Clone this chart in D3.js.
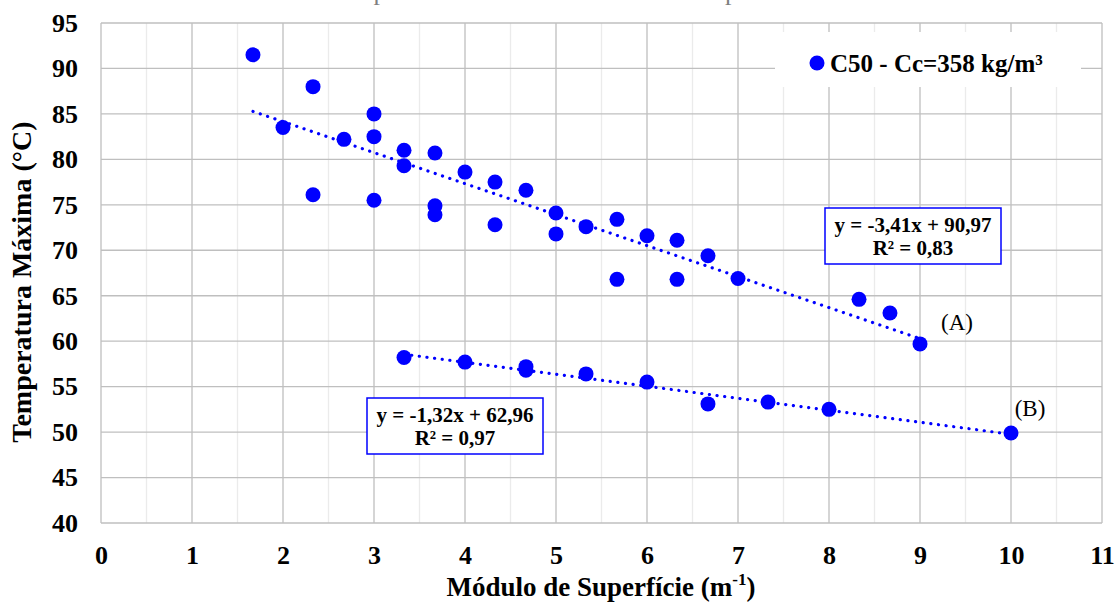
<!DOCTYPE html>
<html>
<head>
<meta charset="utf-8">
<script src="https://cdn.jsdelivr.net/npm/d3@7"></script>
<style>
  body { margin: 0; background: #fff; }
  svg text { font-family: 'Liberation Serif', 'Times New Roman', serif; }
</style>
</head>
<body>
<div id="chart"></div>
<script type="text/javascript">

      // data
      var xA = [1.67, 2.33, 2, 2.33, 2.67, 3, 3, 3, 3.33, 3.33, 3.67, 3.67, 3.67, 4, 4.33, 4.33, 4.67, 5, 5, 5.33, 5.67, 5.67, 6, 6.33, 6.33, 6.67, 7, 8.33, 8.67, 9];
      var yA = [91.5, 88, 83.5, 76.1, 82.2, 85, 82.5, 75.5, 81, 79.3, 80.7, 74.9, 73.9, 78.6, 77.5, 72.8, 76.6, 74.1, 71.8, 72.6, 73.4, 66.8, 71.6, 71.1, 66.8, 69.4, 66.9, 64.6, 63.1, 59.7];
      var xB = [3.33, 4, 4.67, 4.67, 5.33, 6, 6.67, 7.33, 8, 10];
      var yB = [58.2, 57.7, 57.2, 56.8, 56.4, 55.5, 53.1, 53.3, 52.5, 49.9];

      // trend lines: slope, intercept, x range
      var trendA = [-3.41, 90.97, 1.67, 9];
      var trendB = [-1.32, 62.96, 3.33, 10];
      var eqA = ["y = -3,41x + 90,97", "R² = 0,83"];
      var eqB = ["y = -1,32x + 62,96", "R² = 0,97"];

      var xTicks = [0, 1, 2, 3, 4, 5, 6, 7, 8, 9, 10, 11];
      var yTicks = [40, 45, 50, 55, 60, 65, 70, 75, 80, 85, 90, 95];
      var legendLabel = "C50 - Cc=358 kg/m³";

      var w = 1118, h = 602;
      var margin = {top: 23, right: 16, bottom: 79, left: 101};
      var blue = "#0000ff";
      var serif = "'Liberation Serif', 'Times New Roman', serif";

      var svg = d3.select("#chart").append("svg")
                  .attr("width", w).attr("height", h);

      var x = d3.scaleLinear().domain([0, 11]).range([margin.left, w - margin.right]);
      var y = d3.scaleLinear().domain([40, 95]).range([h - margin.bottom, margin.top]);

      // title, mostly cut off at the top edge
      svg.append("text")
         .attr("x", 566).attr("y", 0)
         .attr("text-anchor", "middle")
         .style("font-size", "26px").style("fill", "#7f7f7f")
         .text("Temperatura Máxima x Módulo de Superfície");

      // minor vertical grid
      svg.append("g").selectAll("line")
         .data(d3.range(0.5, 11, 1))
         .enter().append("line")
         .attr("x1", d => x(d)).attr("x2", d => x(d))
         .attr("y1", y(40)).attr("y2", y(95))
         .attr("stroke", "#ebebeb").attr("stroke-width", 1.3);

      // major grid
      svg.append("g").selectAll("line")
         .data(xTicks)
         .enter().append("line")
         .attr("x1", d => x(d)).attr("x2", d => x(d))
         .attr("y1", y(40)).attr("y2", y(95))
         .attr("stroke", "#bfbfbf").attr("stroke-width", 1.3);
      svg.append("g").selectAll("line")
         .data(yTicks)
         .enter().append("line")
         .attr("x1", x(0)).attr("x2", x(11))
         .attr("y1", d => y(d)).attr("y2", d => y(d))
         .attr("stroke", "#bfbfbf").attr("stroke-width", 1.3);

      // axes (labels only)
      var xAxis = svg.append("g")
         .attr("transform", "translate(0," + (h - margin.bottom) + ")")
         .call(d3.axisBottom(x).tickValues(xTicks).tickSize(0).tickPadding(23));
      var yAxis = svg.append("g")
         .attr("transform", "translate(" + margin.left + ",0)")
         .call(d3.axisLeft(y).tickValues(yTicks).tickSize(0).tickPadding(23));
      [xAxis, yAxis].forEach(function(g) {
        g.attr("font-family", serif).attr("font-size", 26);
        g.select(".domain").remove();
        g.selectAll("text")
         .style("font-weight", "bold").style("fill", "#000");
      });

      // legend box
      svg.append("rect")
         .attr("x", 775).attr("y", 32).attr("width", 306).attr("height", 55)
         .attr("fill", "#fff");
      svg.append("circle")
         .attr("cx", 817).attr("cy", 63).attr("r", 7.5).attr("fill", blue);
      svg.append("text")
         .attr("x", 830).attr("y", 72)
         .style("font-size", "25px").style("font-weight", "bold")
         .text(legendLabel);

      // trend lines
      var line = d3.line().x(d => x(d[0])).y(d => y(d[1]));
      [trendA, trendB].forEach(function(t) {
        var pts = [[t[2], t[0] * t[2] + t[1]], [t[3], t[0] * t[3] + t[1]]];
        svg.append("path")
           .attr("d", line(pts))
           .attr("fill", "none").attr("stroke", blue)
           .attr("stroke-width", 3.2)
           .attr("stroke-linecap", "round")
           .attr("stroke-dasharray", "0.1 7.6");
      });

      // points
      var ptsA = xA.map((d, i) => [d, yA[i]]);
      var ptsB = xB.map((d, i) => [d, yB[i]]);
      svg.append("g").selectAll("circle")
         .data(ptsA.concat(ptsB))
         .enter().append("circle")
         .attr("cx", d => x(d[0])).attr("cy", d => y(d[1]))
         .attr("r", 7.5).attr("fill", blue);

      // equation boxes
      function eqBox(lines, bx, by) {
        svg.append("rect")
           .attr("x", bx).attr("y", by).attr("width", 176).attr("height", 56)
           .attr("fill", "#fff").attr("stroke", blue).attr("stroke-width", 1.5);
        lines.forEach(function(s, i) {
          svg.append("text")
             .attr("x", bx + 88).attr("y", by + 24 + i * 23)
             .attr("text-anchor", "middle")
             .style("font-size", "21px").style("font-weight", "bold")
             .text(s);
        });
      }
      eqBox(eqA, 825, 208);
      eqBox(eqB, 367, 398);

      // series tags
      svg.append("text").attr("x", 957).attr("y", 330)
         .attr("text-anchor", "middle").style("font-size", "23px").text("(A)");
      svg.append("text").attr("x", 1030).attr("y", 416)
         .attr("text-anchor", "middle").style("font-size", "23px").text("(B)");

      // axis titles
      var xt = svg.append("text")
         .attr("x", 601).attr("y", 596)
         .attr("text-anchor", "middle")
         .style("font-size", "27px").style("font-weight", "bold");
      xt.append("tspan").text("Módulo de Superfície (m");
      xt.append("tspan").attr("dy", -11).style("font-size", "17px").text("-1");
      xt.append("tspan").attr("dy", 11).text(")");

      svg.append("text")
         .attr("transform", "translate(31," + y(66.5) + ") rotate(-90)")
         .attr("text-anchor", "middle")
         .style("font-size", "28px").style("font-weight", "bold")
         .text("Temperatura Máxima (°C)");

</script>
</body>
</html>
